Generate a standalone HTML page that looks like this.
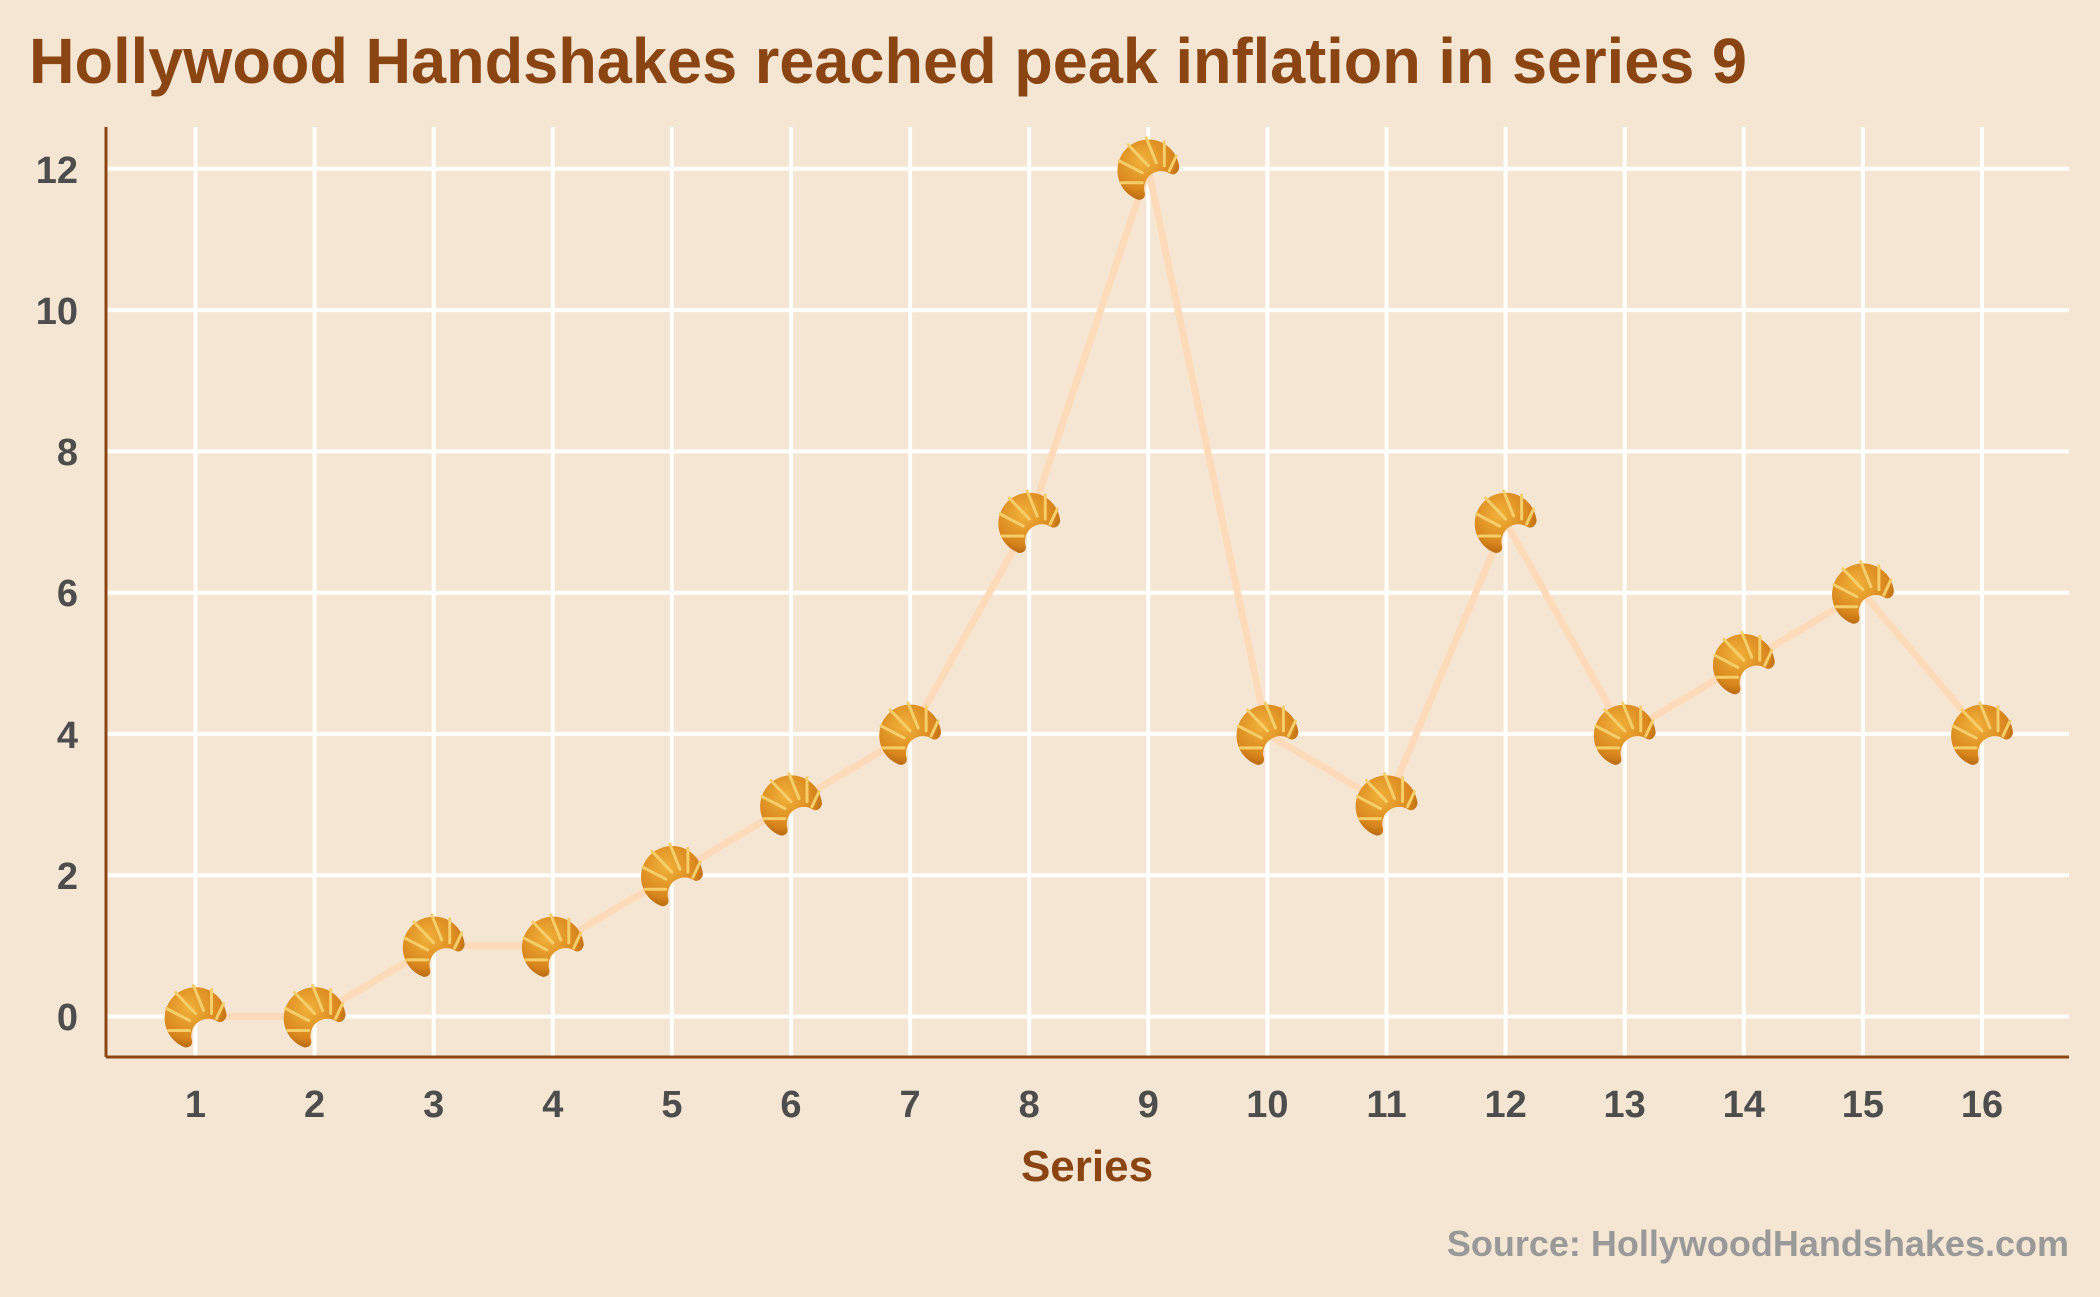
<!DOCTYPE html>
<html><head><meta charset="utf-8"><style>
html,body{margin:0;padding:0;background:#F5E6D3;}
svg{display:block;}
text{font-family:"Liberation Sans",sans-serif;font-weight:bold;}
</style></head><body>
<svg width="2100" height="1297" viewBox="0 0 2100 1297" xmlns="http://www.w3.org/2000/svg">
<defs>
<radialGradient id="g" cx="0.4" cy="0.35" r="0.7">
<stop offset="0" stop-color="#F2B23A"/><stop offset="0.7" stop-color="#D9861C"/><stop offset="1" stop-color="#B0620F"/>
</radialGradient>
<g id="c">
<path d="M-10,31 A31,31 0 1 1 31,-1 C30,4 26,7 22,5 A17,17 0 0 0 -4,22 C-2,28 -5,31 -10,31 Z" fill="url(#g)"/>
<path d="M-29,-8 L-6,4 M-20,-24 L0,-3 M-2,-31 L8,-6 M16,-27 L16,-3 M28,-13 L21,2 M-27,14 L-6,14" stroke="#F5CE6A" stroke-width="3" fill="none" stroke-linecap="round"/>
</g>
</defs>
<rect width="2100" height="1297" fill="#F5E6D3"/>
<text x="29" y="83" font-size="64" fill="#8B4513" textLength="1718" lengthAdjust="spacingAndGlyphs">Hollywood Handshakes reached peak inflation in series 9</text>
<g stroke="#FFFFFF" stroke-width="4">
<line x1="106" x2="2069" y1="1016.5" y2="1016.5"/>
<line x1="106" x2="2069" y1="875.2" y2="875.2"/>
<line x1="106" x2="2069" y1="733.9" y2="733.9"/>
<line x1="106" x2="2069" y1="592.7" y2="592.7"/>
<line x1="106" x2="2069" y1="451.4" y2="451.4"/>
<line x1="106" x2="2069" y1="310.1" y2="310.1"/>
<line x1="106" x2="2069" y1="168.8" y2="168.8"/>
<line y1="127" y2="1057" x1="195.5" x2="195.5"/>
<line y1="127" y2="1057" x1="314.6" x2="314.6"/>
<line y1="127" y2="1057" x1="433.7" x2="433.7"/>
<line y1="127" y2="1057" x1="552.8" x2="552.8"/>
<line y1="127" y2="1057" x1="671.9" x2="671.9"/>
<line y1="127" y2="1057" x1="791" x2="791"/>
<line y1="127" y2="1057" x1="910.1" x2="910.1"/>
<line y1="127" y2="1057" x1="1029.2" x2="1029.2"/>
<line y1="127" y2="1057" x1="1148.3" x2="1148.3"/>
<line y1="127" y2="1057" x1="1267.4" x2="1267.4"/>
<line y1="127" y2="1057" x1="1386.5" x2="1386.5"/>
<line y1="127" y2="1057" x1="1505.6" x2="1505.6"/>
<line y1="127" y2="1057" x1="1624.7" x2="1624.7"/>
<line y1="127" y2="1057" x1="1743.8" x2="1743.8"/>
<line y1="127" y2="1057" x1="1862.9" x2="1862.9"/>
<line y1="127" y2="1057" x1="1982" x2="1982"/>
</g>
<line x1="106" y1="127" x2="106" y2="1057" stroke="#8B4513" stroke-width="3"/>
<line x1="106" y1="1057" x2="2069" y2="1057" stroke="#8B4513" stroke-width="3"/>
<g font-size="38" fill="#4D4D4D" text-anchor="end">
<text x="78" y="1030">0</text><text x="78" y="889">2</text><text x="78" y="748">4</text><text x="78" y="606">6</text><text x="78" y="465">8</text><text x="78" y="324">10</text><text x="78" y="183">12</text>
</g>
<g font-size="38" fill="#4D4D4D" text-anchor="middle">
<text x="195.5" y="1117">1</text><text x="314.6" y="1117">2</text><text x="433.7" y="1117">3</text><text x="552.8" y="1117">4</text><text x="671.9" y="1117">5</text><text x="791" y="1117">6</text><text x="910.1" y="1117">7</text><text x="1029.2" y="1117">8</text><text x="1148.3" y="1117">9</text><text x="1267.4" y="1117">10</text><text x="1386.5" y="1117">11</text><text x="1505.6" y="1117">12</text><text x="1624.7" y="1117">13</text><text x="1743.8" y="1117">14</text><text x="1862.9" y="1117">15</text><text x="1982" y="1117">16</text>
</g>
<text x="1087" y="1181" font-size="44" fill="#8B4513" text-anchor="middle">Series</text>
<text x="2069" y="1256" font-size="36" fill="#999999" text-anchor="end">Source: HollywoodHandshakes.com</text>
<polyline fill="none" stroke="#FFDAB9" stroke-width="7" stroke-linejoin="round" points="195.5,1016.5 314.6,1016.5 433.7,945.9 552.8,945.9 671.9,875.2 791,804.6 910.1,733.9 1029.2,522 1148.3,168.8 1267.4,733.9 1386.5,804.6 1505.6,522 1624.7,733.9 1743.8,663.3 1862.9,592.7 1982,733.9"/>
<use href="#c" x="195.5" y="1016.5"/><use href="#c" x="314.6" y="1016.5"/><use href="#c" x="433.7" y="945.9"/><use href="#c" x="552.8" y="945.9"/><use href="#c" x="671.9" y="875.2"/><use href="#c" x="791" y="804.6"/><use href="#c" x="910.1" y="733.9"/><use href="#c" x="1029.2" y="522"/><use href="#c" x="1148.3" y="168.8"/><use href="#c" x="1267.4" y="733.9"/><use href="#c" x="1386.5" y="804.6"/><use href="#c" x="1505.6" y="522"/><use href="#c" x="1624.7" y="733.9"/><use href="#c" x="1743.8" y="663.3"/><use href="#c" x="1862.9" y="592.7"/><use href="#c" x="1982" y="733.9"/>
</svg>
</body></html>
